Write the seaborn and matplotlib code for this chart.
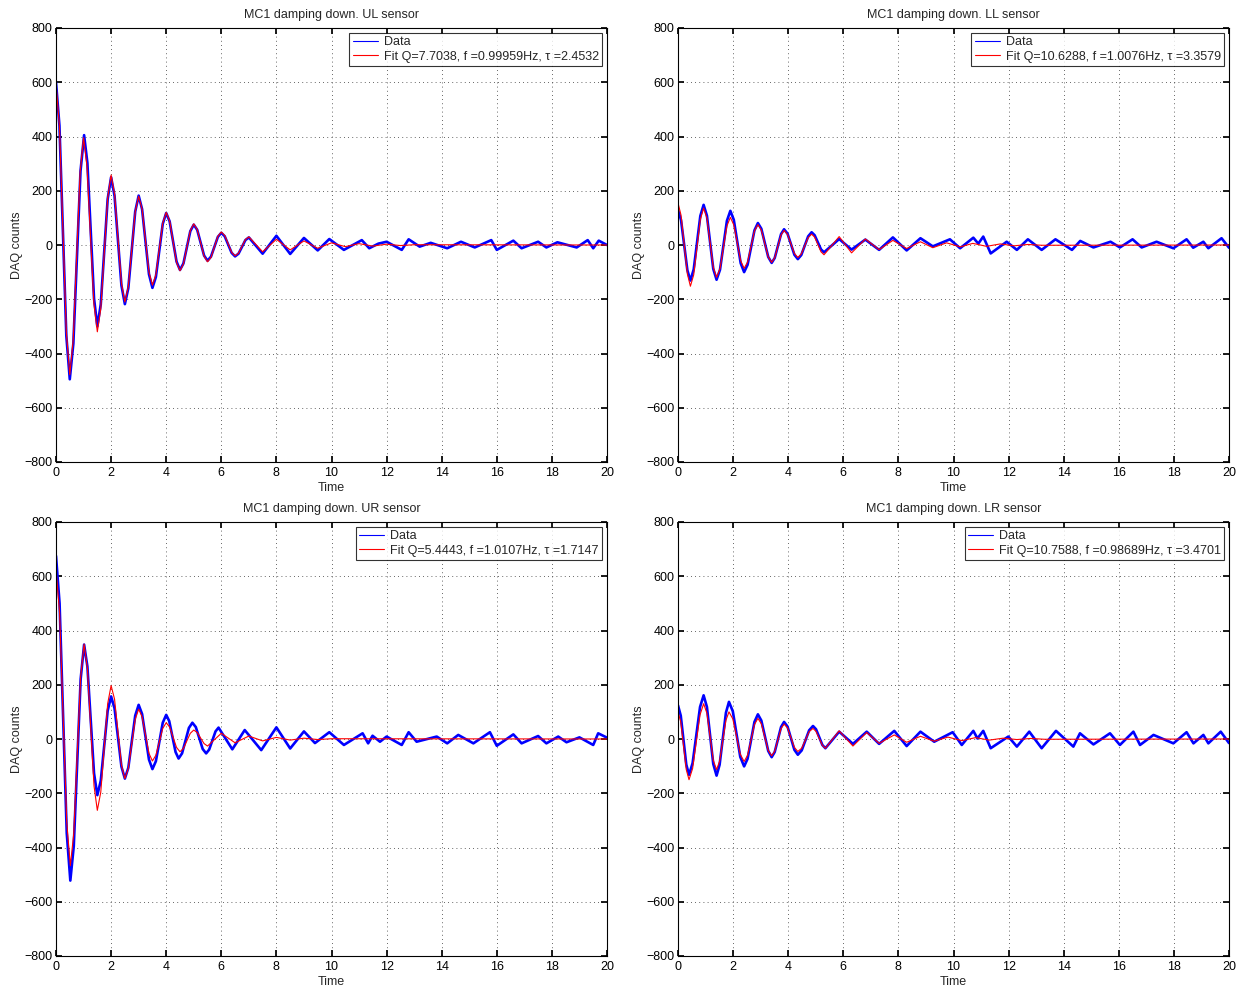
"""
MC1 damping-down ringdown: measured sensor counts vs. damped-sine fit,
one panel per OSEM sensor (UL, LL, UR, LR).
"""

import matplotlib
matplotlib.use("Agg")
import matplotlib.pyplot as plt
import pandas as pd
import seaborn as sns

# ---------------------------------------------------------------------------
# Values (time in s, DAQ counts)
# ---------------------------------------------------------------------------
ul_data_t = [0, 0.125, 0.375, 0.5, 0.63, 0.89, 1.02, 1.14, 1.38, 1.5, 1.625, 1.875,
             2.0, 2.125, 2.375, 2.5, 2.625, 2.875, 3.0, 3.125, 3.375, 3.5, 3.625, 3.875,
             4.0, 4.125, 4.375, 4.5, 4.625, 4.875, 5.0, 5.125, 5.375, 5.5, 5.625, 5.875,
             6.0, 6.125, 6.375, 6.5, 6.625, 6.875, 7.0, 7.5, 8.0, 8.5, 9.0, 9.5,
             9.92, 10.45, 11.1, 11.37, 11.7, 12.0, 12.55, 12.8, 13.2, 13.6, 14.2, 14.7,
             15.2, 15.8, 16.0, 16.6, 16.9, 17.5, 17.8, 18.2, 18.9, 19.3, 19.5, 19.7, 20.0]
ul_data_y = [600, 440, -335, -495, -363, 273, 405, 302, -197, -300, -219, 169,
             250, 181, -149, -218, -159, 123, 182, 132, -108, -158, -118, 78,
             118, 87, -61, -92, -68, 51, 75, 56, -39, -58, -43, 30,
             45, 32, -29, -42, -32, 18, 28, -32, 34, -33, 26, -20,
             22, -18, 18, -12, 5, 12, -18, 21, -6, 8, -12, 12,
             -9, 18, -18, 16, -12, 12, -9, 10, -9, 18, -12, 16, 0]
ul_fit_t = [0, 0.125, 0.375, 0.5, 0.625, 0.875, 1.0, 1.125, 1.375, 1.5, 1.625, 1.875,
            2.0, 2.125, 2.375, 2.5, 2.625, 2.875, 3.0, 3.125, 3.375, 3.5, 3.625, 3.875,
            4.0, 4.125, 4.375, 4.5, 4.625, 4.875, 5.0, 5.125, 5.375, 5.5, 5.625, 5.875,
            6.0, 6.125, 6.375, 6.5, 6.625, 6.875, 7.0, 7.5, 8.0, 8.5, 9.0, 9.5,
            10.0, 10.5, 11.0, 11.5, 12.0, 12.5, 13.0, 20.0]
ul_fit_y = [595, 438, -321, -478, -350, 267, 395, 290, -215, -320, -235, 173,
            258, 189, -141, -210, -153, 123, 180, 132, -100, -148, -109, 81,
            120, 89, -64, -95, -70, 53, 78, 57, -41, -62, -46, 32,
            48, 35, -27, -40, -30, 20, 30, -25, 21, -18, 15, -12,
            8, -6, 5, -4, 3, -2, 1, 0]

ll_data_t = [0, 0.11, 0.34, 0.45, 0.57, 0.81, 0.93, 1.05, 1.28, 1.4, 1.525, 1.775,
             1.9, 2.025, 2.275, 2.4, 2.525, 2.775, 2.9, 3.025, 3.275, 3.4, 3.51, 3.74,
             3.85, 3.975, 4.225, 4.35, 4.475, 4.725, 4.85, 4.96, 5.19, 5.3, 5.85, 6.3,
             6.8, 7.3, 7.8, 8.3, 8.8, 9.25, 9.87, 10.24, 10.72, 10.9, 11.08, 11.35,
             11.93, 12.3, 12.7, 13.2, 13.7, 14.3, 14.6, 15.08, 15.7, 16.04, 16.5,
             16.83, 17.37, 17.98, 18.46, 18.7, 19.07, 19.25, 19.73, 20.0]
ll_data_y = [130, 92, -93, -131, -90, 107, 148, 108, -88, -128, -91, 89,
             126, 93, -67, -100, -73, 54, 81, 60, -44, -66, -48, 40,
             58, 42, -36, -52, -37, 32, 47, 36, -16, -27, 22, -17,
             20, -18, 28, -20, 25, -5, 21, -12, 27, 5, 31, -31,
             12, -18, 21, -18, 21, -18, 15, -9, 12, -9, 21,
             -9, 12, -12, 21, -10, 12, -12, 25, -10]
ll_fit_t = [0, 0.11, 0.34, 0.45, 0.57, 0.81, 0.93, 1.05, 1.28, 1.4, 1.525, 1.775,
            1.9, 2.025, 2.275, 2.4, 2.525, 2.775, 2.9, 3.025, 3.275, 3.4, 3.51, 3.74,
            3.85, 3.975, 4.225, 4.35, 4.475, 4.725, 4.85, 4.96, 5.19, 5.3, 5.85, 6.3,
            6.8, 7.3, 7.8, 8.3, 8.8, 9.25, 9.75, 10.25, 10.7, 11.2, 11.7, 12.2,
            12.7, 13.2, 20.0]
ll_fit_y = [155, 110, -107, -152, -110, 94, 136, 99, -82, -119, -87, 70,
            102, 74, -58, -86, -63, 52, 75, 55, -44, -64, -47, 37,
            54, 39, -31, -46, -33, 27, 40, 29, -25, -36, 31, -29,
            22, -17, 17, -13, 12, -10, 8, -7, 6, -5, 4, -3,
            2, -1, 0]

ur_data_t = [0, 0.13, 0.39, 0.52, 0.645, 0.895, 1.02, 1.14, 1.38, 1.5, 1.625, 1.875,
             2.0, 2.125, 2.375, 2.5, 2.625, 2.875, 3.0, 3.125, 3.375, 3.5, 3.625, 3.875,
             4.0, 4.11, 4.34, 4.45, 4.575, 4.825, 4.95, 5.075, 5.325, 5.45, 5.56, 5.79,
             5.9, 6.4, 6.85, 7.45, 8.0, 8.5, 9.0, 9.4, 9.92, 10.45, 11.13, 11.33,
             11.49, 11.76, 12.0, 12.55, 12.8, 13.09, 13.82, 14.2, 14.6, 15.15, 15.75,
             16.0, 16.6, 16.9, 17.5, 17.8, 18.23, 18.53, 19.0, 19.5, 19.68, 20.0]
ur_data_y = [675, 500, -347, -522, -395, 221, 348, 267, -126, -207, -154, 104,
             157, 113, -102, -146, -106, 86, 126, 92, -76, -111, -82, 60,
             89, 66, -48, -72, -53, 41, 60, 44, -37, -53, -39, 28,
             42, -38, 33, -41, 43, -35, 28, -15, 25, -22, 21, -16,
             12, -10, 9, -22, 25, -10, 9, -16, 15, -16, 25,
             -25, 17, -16, 11, -16, 9, -12, 6, -22, 21, 5]
ur_fit_t = [0, 0.13, 0.39, 0.52, 0.645, 0.895, 1.02, 1.14, 1.38, 1.5, 1.625, 1.875,
            2.0, 2.125, 2.375, 2.5, 2.625, 2.875, 3.0, 3.125, 3.375, 3.5, 3.625, 3.875,
            4.0, 4.125, 4.375, 4.5, 4.625, 4.875, 5.0, 5.125, 5.375, 5.5, 6.0, 6.5,
            7.0, 7.5, 8.0, 8.5, 9.0, 9.5, 10.0, 20.0]
ur_fit_y = [626, 466, -307, -467, -348, 230, 350, 260, -173, -263, -196, 130,
            197, 147, -96, -146, -108, 72, 110, 82, -53, -81, -60, 39,
            60, 44, -31, -47, -35, 21, 33, 24, -17, -26, 21, -14,
            11, -7, 6, -4, 3, -2, 1, 0]

lr_data_t = [0, 0.1, 0.3, 0.4, 0.53, 0.8, 0.93, 1.05, 1.28, 1.4, 1.51, 1.74,
             1.85, 1.99, 2.26, 2.4, 2.525, 2.775, 2.9, 3.025, 3.275, 3.4, 3.51, 3.74,
             3.85, 3.975, 4.225, 4.35, 4.49, 4.76, 4.9, 5.01, 5.24, 5.35, 5.85, 6.35,
             6.85, 7.3, 7.85, 8.3, 8.8, 9.3, 9.97, 10.3, 10.72, 10.87, 11.08, 11.35,
             11.99, 12.3, 12.75, 13.2, 13.72, 14.35, 14.59, 15.08, 15.68, 16.04,
             16.53, 16.77, 17.26, 17.98, 18.46, 18.71, 19.07, 19.25, 19.7, 20.0]
lr_data_y = [124, 86, -94, -132, -89, 118, 161, 118, -92, -135, -95, 97,
             137, 102, -66, -101, -73, 63, 91, 68, -44, -67, -48, 44,
             63, 46, -40, -58, -42, 32, 48, 36, -22, -34, 27, -18,
             27, -18, 30, -26, 27, -10, 25, -22, 30, 2, 30, -34,
             9, -28, 27, -34, 30, -28, 21, -20, 21, -22,
             27, -22, 15, -16, 25, -16, 15, -16, 27, -15]
lr_fit_t = [0, 0.1, 0.3, 0.4, 0.53, 0.8, 0.93, 1.05, 1.28, 1.4, 1.51, 1.74,
            1.85, 1.99, 2.26, 2.4, 2.525, 2.775, 2.9, 3.025, 3.275, 3.4, 3.51, 3.74,
            3.85, 3.975, 4.225, 4.35, 4.49, 4.76, 4.9, 5.01, 5.24, 5.35, 5.85, 6.35,
            6.85, 7.3, 7.85, 8.3, 8.8, 9.3, 9.8, 10.3, 10.8, 11.3, 11.8, 12.3,
            12.8, 13.3, 20.0]
lr_fit_y = [100, 63, -113, -150, -109, 89, 130, 95, -78, -113, -82, 69,
            100, 74, -56, -83, -60, 53, 76, 56, -42, -62, -45, 38,
            55, 41, -31, -46, -34, 27, 39, 28, -23, -34, 30, -26,
            24, -16, 15, -12, 10, -8, 7, -6, 5, -4, 3, -2,
            2, -1, 0]

sensors = ["UL", "LL", "UR", "LR"]
fit_labels = [
    "Fit Q=7.7038, f =0.99959Hz, \u03c4 =2.4532",
    "Fit Q=10.6288, f =1.0076Hz, \u03c4 =3.3579",
    "Fit Q=5.4443, f =1.0107Hz, \u03c4 =1.7147",
    "Fit Q=10.7588, f =0.98689Hz, \u03c4 =3.4701",
]
series = [
    (ul_data_t, ul_data_y, ul_fit_t, ul_fit_y),
    (ll_data_t, ll_data_y, ll_fit_t, ll_fit_y),
    (ur_data_t, ur_data_y, ur_fit_t, ur_fit_y),
    (lr_data_t, lr_data_y, lr_fit_t, lr_fit_y),
]
x_ticks = list(range(0, 21, 2))
y_ticks = list(range(-800, 801, 200))

# ---------------------------------------------------------------------------
# Style — MATLAB-like boxed axes with dotted grid
# ---------------------------------------------------------------------------
sns.set_theme(style="ticks")
plt.rcParams.update({
    "font.family": ["Liberation Sans", "DejaVu Sans"],
    "font.size": 9,
    "axes.linewidth": 0.8,
    "axes.edgecolor": "black",
    "xtick.direction": "in",
    "ytick.direction": "in",
    "xtick.top": True,
    "ytick.right": True,
    "xtick.major.size": 4,
    "ytick.major.size": 4,
    "xtick.major.pad": 3.5,
    "ytick.major.pad": 2.5,
    "xtick.labelsize": 9,
    "ytick.labelsize": 9,
    "xtick.color": "black",
    "ytick.color": "black",
})

fig = plt.figure(figsize=(12.44, 9.92), dpi=100)
W, H = 1244, 992
boxes = [(56, 28), (678, 28), (56, 522), (678, 522)]   # left, top in px
AW, AH = 551, 434

for (left, top), sensor, label, (dt, dy, ft, fy) in zip(boxes, sensors, fit_labels, series):
    ax = fig.add_axes([left / W, 1 - (top + AH) / H, AW / W, AH / H])
    data_df = pd.DataFrame({"t": dt, "y": dy})
    fit_df = pd.DataFrame({"t": ft, "y": fy})
    sns.lineplot(data=data_df, x="t", y="y", ax=ax, color="#0000FF",
                 linewidth=1.9, estimator=None, label="Data")
    sns.lineplot(data=fit_df, x="t", y="y", ax=ax, color="#FF0000",
                 linewidth=0.8, estimator=None, label=label)

    ax.set_xlim(0, 20)
    ax.set_ylim(-800, 800)
    ax.set_xticks(x_ticks)
    ax.set_yticks(y_ticks)
    ax.grid(True, linestyle=(0, (1, 4)), linewidth=0.6, color="#333333")
    ax.set_title(f"MC1 damping down. {sensor} sensor", fontsize=9, pad=7)
    ax.set_xlabel("Time", fontsize=9, labelpad=2)
    ax.set_ylabel("DAQ counts", fontsize=9, labelpad=1)
    for sp in ax.spines.values():
        sp.set_visible(True)

    leg = ax.legend(loc="upper right", fontsize=9, frameon=True, fancybox=False,
                    borderaxespad=0.4, handlelength=2.0, borderpad=0.25,
                    labelspacing=0.2, handletextpad=0.5)
    leg.get_frame().set_edgecolor("black")
    leg.get_frame().set_linewidth(0.8)
    for h in leg.get_lines():
        h.set_linewidth(0.8)

fig.savefig("out.png", dpi=100)
